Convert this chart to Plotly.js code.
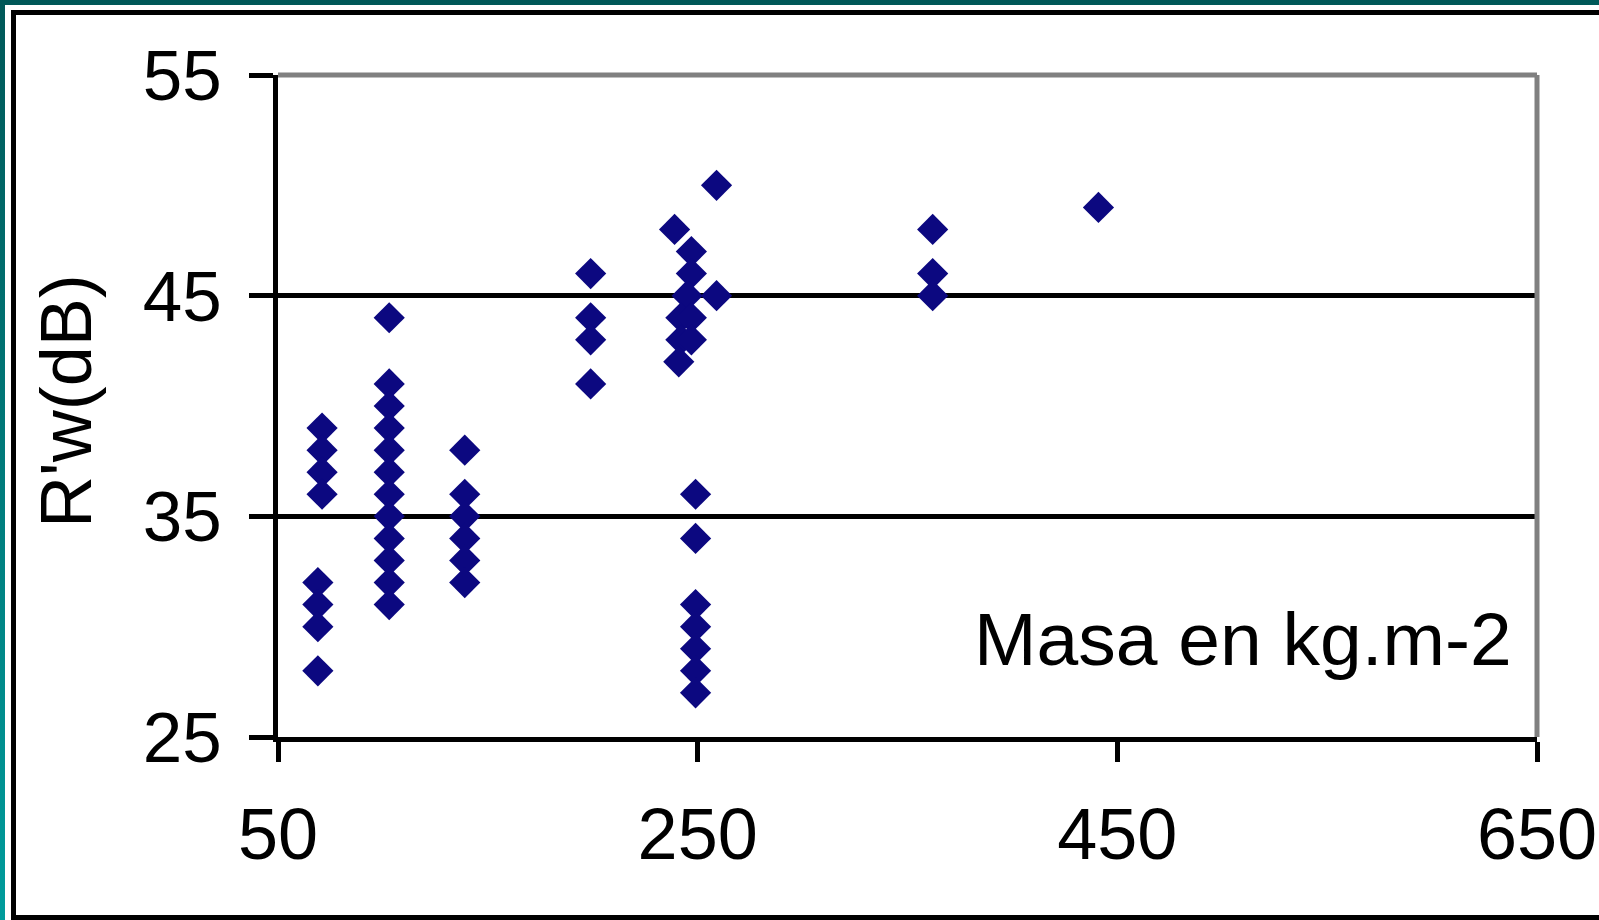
<!DOCTYPE html>
<html>
<head>
<meta charset="utf-8">
<script src="https://cdn.plot.ly/plotly-3.0.1.min.js"></script>
<style>
  html, body { margin: 0; padding: 0; width: 1599px; height: 920px; overflow: hidden; }
  body { background: linear-gradient(to bottom, #005858, #009c9c); position: relative; }
  #white { position: absolute; left: 5px; top: 5px; width: 1700px; height: 1000px; background: #ffffff; }
  #frame { position: absolute; left: 11px; top: 10px; width: 1700px; height: 910px; box-sizing: border-box; border: 5px solid #000; background: #fff; }
  #chart { position: absolute; left: 0; top: 0; width: 1599px; height: 920px; }
</style>
</head>
<body>
<div id="white"></div>
<div id="frame"></div>
<div id="chart"></div>
<script>
// Masa (kg/m2) and R'w (dB)
const masa = [
  71, 71, 71, 71,
  69, 69, 69, 69,
  103, 103, 103, 103, 103, 103, 103, 103, 103, 103, 103, 103,
  139, 139, 139, 139, 139, 139,
  199, 199, 199, 199,
  239, 247, 247, 245, 242, 247, 242, 247, 241, 259, 259,
  249, 249, 249, 249, 249, 249, 249,
  362, 362, 362,
  441
];
const rw = [
  39, 38, 37, 36,
  32, 31, 30, 28,
  44, 41, 40, 39, 38, 37, 36, 35, 34, 33, 32, 31,
  38, 36, 35, 34, 33, 32,
  46, 44, 43, 41,
  48, 47, 46, 45, 44, 44, 43, 43, 42, 45, 50,
  36, 34, 31, 30, 29, 28, 27,
  48, 46, 45,
  49
];
const xTicks = [50, 250, 450, 650];
const yTicks = [25, 35, 45, 55];
const yTitle = "R'w(dB)";
const xNote = "Masa en kg.m-2";

const FONT = "Liberation Sans, Arial, sans-serif";

const trace = {
  type: 'scatter',
  mode: 'markers',
  x: masa,
  y: rw,
  marker: { symbol: 'diamond', size: 24, color: '#0c0880', line: { width: 0 } },
  hoverinfo: 'x+y'
};

const layout = {
  width: 1599,
  height: 920,
  margin: { l: 278, r: 62, t: 75, b: 183, pad: 0 },
  paper_bgcolor: 'rgba(0,0,0,0)',
  plot_bgcolor: 'rgba(0,0,0,0)',
  showlegend: false,
  font: { family: FONT, color: '#000', size: 71 },
  xaxis: {
    range: [50, 650],
    tickvals: xTicks,
    ticktext: xTicks.map(String),
    showgrid: false,
    zeroline: false,
    showline: true,
    linecolor: '#000',
    linewidth: 5,
    ticks: 'outside',
    ticklen: 20,
    tickwidth: 5,
    tickcolor: '#000',
    ticklabelstandoff: 11,
    tickfont: { family: FONT, size: 72, color: '#000' },
    fixedrange: true
  },
  yaxis: {
    range: [25, 55],
    tickvals: yTicks,
    ticktext: yTicks.map(String),
    showgrid: true,
    gridcolor: '#000',
    gridwidth: 5,
    zeroline: false,
    showline: true,
    linecolor: '#000',
    linewidth: 5,
    ticks: 'outside',
    ticklen: 24,
    tickwidth: 5,
    tickcolor: '#000',
    ticklabelstandoff: 13,
    tickfont: { family: FONT, size: 71, color: '#000' },
    fixedrange: true
  },
  shapes: [
    { type: 'line', xref: 'paper', yref: 'paper', x0: 0, x1: 1, y0: 1, y1: 1,
      line: { color: '#808080', width: 5 } },
    { type: 'line', xref: 'paper', yref: 'paper', x0: 1, x1: 1, y0: 0, y1: 1,
      line: { color: '#808080', width: 5 } }
  ],
  annotations: [
    { text: yTitle, xref: 'paper', yref: 'paper', x: 0, y: 0.5, xanchor: 'center', yanchor: 'middle',
      xshift: -212, yshift: 5, textangle: -90, showarrow: false,
      font: { family: FONT, size: 72, color: '#000' } },
    { text: xNote, xref: 'paper', yref: 'paper', x: 0.551, y: 0.148, xanchor: 'left', yanchor: 'middle',
      showarrow: false, font: { family: FONT, size: 75, color: '#000' } }
  ]
};

Plotly.newPlot('chart', [trace], layout, { staticPlot: true, displayModeBar: false });
</script>
</body>
</html>
